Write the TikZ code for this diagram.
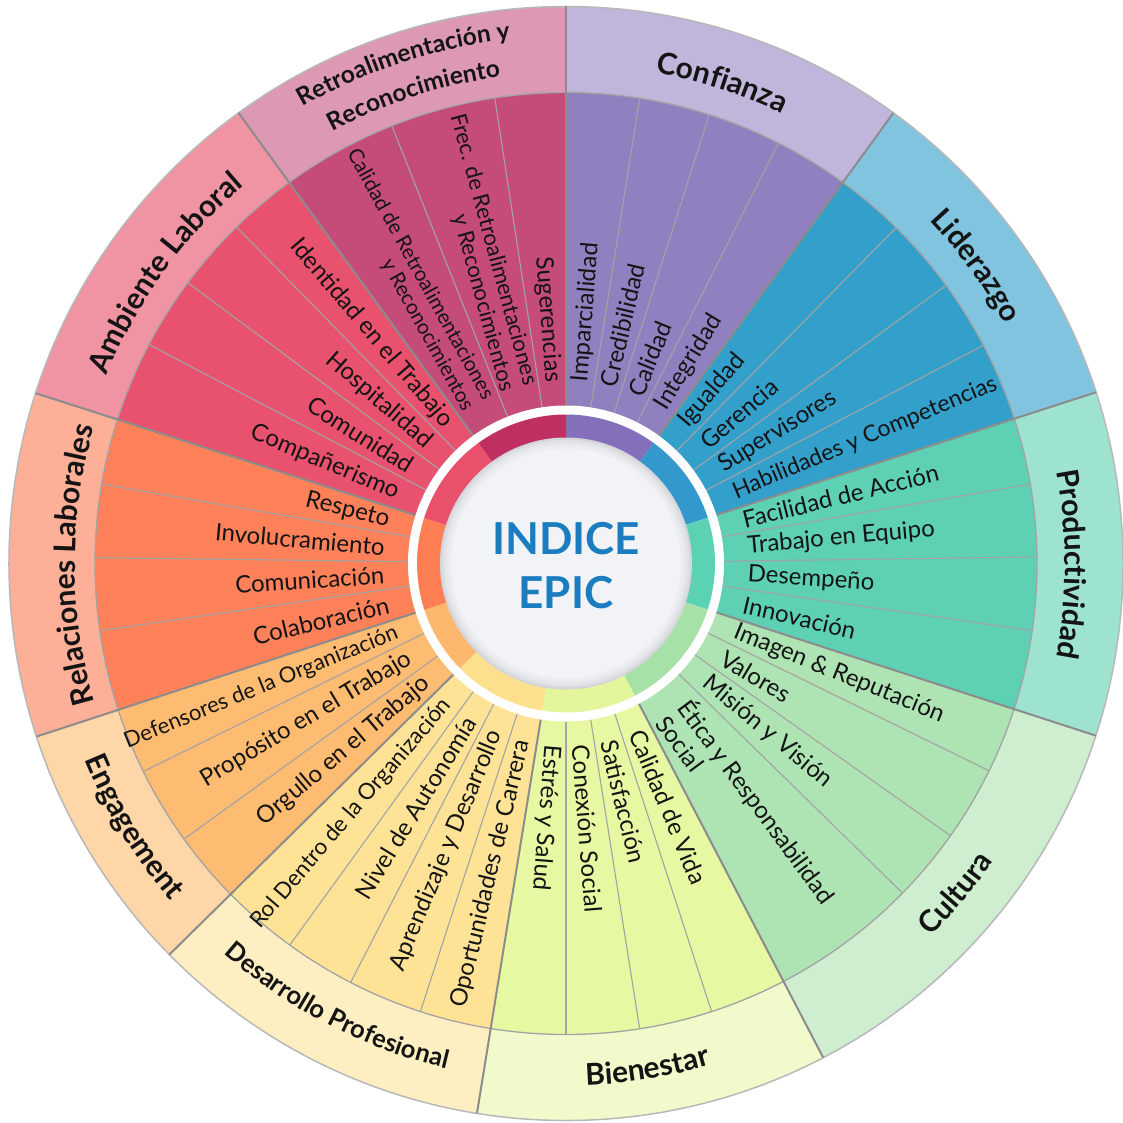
\documentclass[tikz,border=0pt]{standalone}
\usepackage{fontspec}
\setmainfont{Lato}
\usetikzlibrary{decorations.text}

\definecolor{confI}{HTML}{9080C0}\definecolor{confB}{HTML}{C0B6DC}\definecolor{confR}{HTML}{8470BA}
\definecolor{lidI}{HTML}{33A0CC}\definecolor{lidB}{HTML}{80C4E0}\definecolor{lidR}{HTML}{3399CC}
\definecolor{proI}{HTML}{5ED0B4}\definecolor{proB}{HTML}{9DE3D0}\definecolor{proR}{HTML}{5CD2B4}
\definecolor{culI}{HTML}{AEE4B4}\definecolor{culB}{HTML}{CEEECF}\definecolor{culR}{HTML}{A6E2A8}
\definecolor{bieI}{HTML}{E6F8A2}\definecolor{bieB}{HTML}{F1FACB}\definecolor{bieR}{HTML}{E4F69C}
\definecolor{desI}{HTML}{FEE397}\definecolor{desB}{HTML}{FEEFC2}\definecolor{desR}{HTML}{FDE08E}
\definecolor{engI}{HTML}{FEBB72}\definecolor{engB}{HTML}{FED6A8}\definecolor{engR}{HTML}{FDB86E}
\definecolor{relI}{HTML}{FE8159}\definecolor{relB}{HTML}{FDB097}\definecolor{relR}{HTML}{FF7F55}
\definecolor{ambI}{HTML}{E9526E}\definecolor{ambB}{HTML}{F093A3}\definecolor{ambR}{HTML}{E8506C}
\definecolor{retI}{HTML}{C54B78}\definecolor{retB}{HTML}{DD99B3}\definecolor{retR}{HTML}{C02F62}
\definecolor{thingray}{HTML}{A3A3A3}\definecolor{thickgray}{HTML}{8C8C8C}
\definecolor{indblue}{HTML}{1B7DC0}\definecolor{txt}{HTML}{141414}

\newcommand{\wsector}[4]{\fill[#1] (0,0) -- (#2:#4pt) arc[start angle=#2, end angle=#3, radius=#4pt] -- cycle;}
\newcommand{\wband}[5]{\fill[#1] (#2:#4pt) -- (#2:#5pt) arc[start angle=#2, end angle=#3, radius=#5pt] -- (#3:#4pt) arc[start angle=#3, end angle=#2, radius=#4pt] -- cycle;}
\newcommand{\catfont}{\fontsize{30}{36}\selectfont\bfseries}
\newcommand{\retfont}{\fontsize{24.5}{30}\selectfont\bfseries}
\newcommand{\desfont}{\fontsize{25.5}{30}\selectfont\bfseries}
\newcommand{\arclabel}[5]{\path[decorate, decoration={text along path, text align=center, text color=txt, text={|#4|#5}}] (#1:#3pt) arc[start angle=#1, end angle=#2, radius=#3pt];}

\begin{document}
\begin{tikzpicture}[x=1pt,y=1pt,
  item/.style={font=\fontsize{24}{27}\selectfont, text=txt, inner sep=0pt},
  outw/.style={item, anchor=west},
  inw/.style={item, anchor=east},
  thinline/.style={draw=thingray, line width=1.1pt},
  thickline/.style={draw=thickgray, line width=2pt}]
\useasboundingbox (-566,-558.5) rectangle (557,563.5);

% item sectors
\wsector{confI}{90}{54}{471}
\wsector{lidI}{54}{17.9}{471}
\wsector{proI}{17.9}{-18}{471}
\wsector{culI}{-18}{-62.5}{471}
\wsector{bieI}{-62.5}{-99.2}{471}
\wsector{desI}{-99.2}{-135.4}{471}
\wsector{engI}{-135.4}{-161.9}{471}
\wsector{relI}{-161.9}{-197.8}{471}
\wsector{ambI}{-197.8}{-234}{471}
\wsector{retI}{-234}{-270}{471}
% category bands
\wband{confB}{90}{54}{471}{557}
\wband{lidB}{54}{17.9}{471}{557}
\wband{proB}{17.9}{-18}{471}{557}
\wband{culB}{-18}{-62.5}{471}{557}
\wband{bieB}{-62.5}{-99.2}{471}{557}
\wband{desB}{-99.2}{-135.4}{471}{557}
\wband{engB}{-135.4}{-161.9}{471}{557}
\wband{relB}{-161.9}{-197.8}{471}{557}
\wband{ambB}{-197.8}{-234}{471}{557}
\wband{retB}{-234}{-270}{471}{557}

% item separators
\foreach \a in {81,72.3,63.2,45.5,36.2,27.6,9.7,0.8,-8.2,-26.1,-35.3,-44.4,-72,-81,-90,-108,-117.2,-125.9,-144.2,-153.8,-171.8,-180.7,-189.7,-207.7,-216.6,-225.6,-248.3,-261.3}
  \draw[thinline] (\a:158pt) -- (\a:471pt);
\draw[draw=thingray, line width=1.3pt] (0,0) circle[radius=471pt];
\draw[draw=black!28, line width=1.5pt] (0,0) circle[radius=557pt];
% category separators
\foreach \a in {90,54,17.9,-18,-62.5,-99.2,-135.4,-161.9,-197.8,-234}
  \draw[thickline] (\a:158pt) -- (\a:557pt);

% centre
\fill[white] (0,0) circle[radius=158pt];
\wband{confR}{90}{54}{124}{149}
\wband{lidR}{54}{17.9}{124}{149}
\wband{proR}{17.9}{-18}{124}{149}
\wband{culR}{-18}{-62.5}{124}{149}
\wband{bieR}{-62.5}{-99.2}{124}{149}
\wband{desR}{-99.2}{-135.4}{124}{149}
\wband{engR}{-135.4}{-161.9}{124}{149}
\wband{relR}{-161.9}{-197.8}{124}{149}
\wband{ambR}{-197.8}{-234}{124}{149}
\wband{retR}{-234}{-270}{124}{149}
\fill[fill={rgb,255:red,212;green,213;blue,218}] (0,0) circle[radius=126pt];
\fill[fill={rgb,255:red,222;green,223;blue,227}] (0,0) circle[radius=124pt];
\fill[fill={rgb,255:red,230;green,231;blue,235}] (0,0) circle[radius=121.5pt];
\fill[fill={rgb,255:red,236;green,237;blue,241}] (0,0) circle[radius=118.5pt];
\fill[fill={rgb,255:red,242;green,243;blue,247}] (0,0) circle[radius=115pt];
\node[font=\fontsize{44}{44}\selectfont\bfseries, text=indblue, inner sep=0pt] (t1) at (0,25) {INDICE};
\node[font=\fontsize{44}{44}\selectfont\bfseries, text=indblue, inner sep=0pt] (t2) at (0,-29.5) {EPIC};

% Confianza
\node[outw, rotate=85.5] (c1) at (85.5:182pt) {Imparcialidad};
\node[outw, rotate=76.65] (c2) at (76.65:182pt) {Credibilidad};
\node[outw, rotate=67.75] (c3) at (67.75:182pt) {Calidad};
\node[outw, rotate=58.6] (c4) at (58.6:182pt) {Integridad};
% Liderazgo
\node[outw, rotate=49.75] (l1) at (49.75:182pt) {Igualdad};
\node[outw, rotate=40.85] (l2) at (40.85:182pt) {Gerencia};
\node[outw, rotate=31.9] (l3) at (31.9:182pt) {Supervisores};
\node[outw, rotate=22.75, font=\fontsize{23}{27}\selectfont] (l4) at (22.75:182pt) {Habilidades y Competencias};
% Productividad
\node[outw, rotate=13.8] (p1) at (13.8:182pt) {Facilidad de Acción};
\node[outw, rotate=5.25] (p2) at (5.25:182pt) {Trabajo en Equipo};
\node[outw, rotate=-3.7] (p3) at (-3.7:182pt) {Desempeño};
\node[outw, rotate=-13.1] (p4) at (-13.1:182pt) {Innovación};
% Cultura
\node[outw, rotate=-22.05] (u1) at (-22.05:182pt) {Imagen \& Reputación};
\node[outw, rotate=-30.7] (u2) at (-30.7:182pt) {Valores};
\node[outw, rotate=-39.85] (u3) at (-39.85:182pt) {Misión y Visión};
\node[outw, rotate=-53.45, align=left] (u4) at (-53.45:182pt) {Ética y Responsabilidad\\Social};
% Bienestar
\node[outw, rotate=-67.25] (b1) at (-67.25:182pt) {Calidad de Vida};
\node[outw, rotate=-76.5] (b2) at (-76.5:182pt) {Satisfacción};
\node[outw, rotate=-85.5] (b3) at (-85.5:182pt) {Conexión Social};
\node[outw, rotate=-94.6] (b4) at (-94.6:182pt) {Estrés y Salud};
% Desarrollo Profesional
\node[inw, rotate=76.4] (d1) at (-103.6:182pt) {Oportunidades de Carrera};
\node[inw, rotate=67.4] (d2) at (-112.6:182pt) {Aprendizaje y Desarrollo};
\node[inw, rotate=58.45] (d3) at (-121.55:182pt) {Nivel de Autonomía};
\node[inw, rotate=49.35, font=\fontsize{22.5}{27}\selectfont] (d4) at (-130.65:182pt) {Rol Dentro de la Organización};
% Engagement
\node[inw, rotate=40.2] (e1) at (-139.8:182pt) {Orgullo en el Trabajo};
\node[inw, rotate=31] (e2) at (-149:182pt) {Propósito en el Trabajo};
\node[inw, rotate=22.15, font=\fontsize{22}{27}\selectfont] (e3) at (-157.85:182pt) {Defensores de la Organización};
% Relaciones Laborales
\node[inw, rotate=13.15] (r1) at (-166.85:182pt) {Colaboración};
\node[inw, rotate=3.75] (r2) at (-176.25:182pt) {Comunicación};
\node[inw, rotate=-5.2] (r3) at (-185.2:182pt) {Involucramiento};
\node[inw, rotate=-13.75] (r4) at (-193.75:182pt) {Respeto};
% Ambiente Laboral
\node[inw, rotate=-22.75] (a1) at (-202.75:182pt) {Compañerismo};
\node[inw, rotate=-32.15] (a2) at (-212.15:182pt) {Comunidad};
\node[inw, rotate=-41.1] (a3) at (-221.1:182pt) {Hospitalidad};
\node[inw, rotate=-49.8] (a4) at (-229.8:182pt) {Identidad en el Trabajo};
% Retroalimentacion
\node[inw, rotate=-61.15, align=right, font=\fontsize{20.5}{23}\selectfont] (f1) at (-241.15:182pt) {Calidad de Retroalimentaciones\\y Reconocimientos};
\node[inw, rotate=-74.8, align=right, font=\fontsize{22}{24}\selectfont] (f2) at (-254.8:182pt) {Frec. de Retroalimentaciones\\y Reconocimientos};
\node[inw, rotate=-85.65] (f3) at (-265.65:182pt) {Sugerencias};

% category labels
\arclabel{90}{54}{499}{\catfont}{Confianza}
\arclabel{54}{17.9}{500}{\catfont}{Liderazgo}
\arclabel{17.9}{-18}{499}{\catfont}{Productividad}
\arclabel{198.1}{162.2}{491}{\catfont}{Relaciones Laborales}
\arclabel{162.2}{126}{496}{\catfont}{Ambiente Laboral}
\arclabel{126}{90}{527}{\retfont}{Retroalimentación y}
\arclabel{126}{90}{491}{\retfont}{Reconocimiento}
\arclabel{-62.5}{-18}{521}{\catfont}{Cultura}
\arclabel{-99.2}{-62.5}{522}{\catfont}{Bienestar}
\arclabel{-135.4}{-99.2}{519}{\desfont}{Desarrollo Profesional}
\arclabel{-161.9}{-135.4}{520}{\catfont}{Engagement}
\end{tikzpicture}
\end{document}
